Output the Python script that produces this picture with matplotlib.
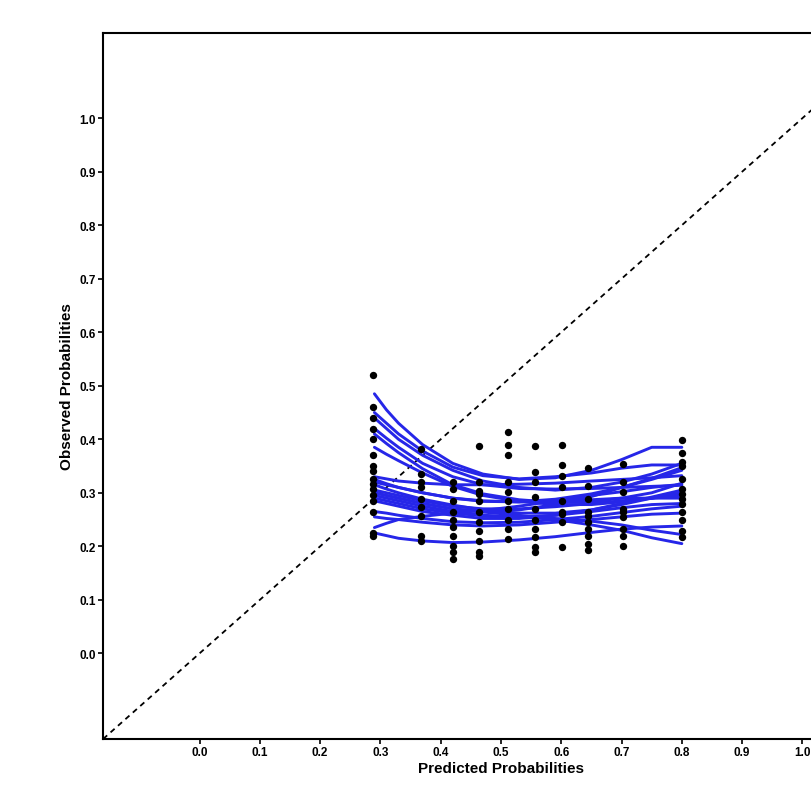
import matplotlib
matplotlib.use("Agg")
import matplotlib.pyplot as plt

# predicted probability groups and the observed values in each group
pred_levels = [0.287, 0.368, 0.42, 0.464, 0.511, 0.557, 0.602, 0.645, 0.703, 0.80]
obs_0287 = [0.52, 0.46, 0.44, 0.42, 0.40, 0.37, 0.35, 0.34, 0.325, 0.316, 0.307, 0.295, 0.285, 0.265, 0.224, 0.22]
obs_0368 = [0.381, 0.335, 0.321, 0.310, 0.288, 0.273, 0.256, 0.219, 0.209]
obs_042 = [0.32, 0.307, 0.284, 0.265, 0.25, 0.236, 0.219, 0.20, 0.19, 0.176]
obs_0464 = [0.387, 0.321, 0.303, 0.297, 0.284, 0.265, 0.245, 0.228, 0.209, 0.189, 0.181]
obs_0511 = [0.413, 0.39, 0.37, 0.32, 0.301, 0.284, 0.269, 0.25, 0.232, 0.213]
obs_0557 = [0.387, 0.338, 0.32, 0.293, 0.269, 0.25, 0.232, 0.217, 0.198, 0.189]
obs_0602 = [0.39, 0.351, 0.331, 0.31, 0.284, 0.265, 0.26, 0.245, 0.198]
obs_0645 = [0.346, 0.312, 0.288, 0.265, 0.256, 0.245, 0.232, 0.219, 0.204, 0.194]
obs_0703 = [0.353, 0.32, 0.301, 0.269, 0.264, 0.254, 0.232, 0.219, 0.20]
obs_080 = [0.398, 0.374, 0.357, 0.35, 0.325, 0.307, 0.297, 0.288, 0.279, 0.265, 0.25, 0.228, 0.217]
obs_groups = [obs_0287, obs_0368, obs_042, obs_0464, obs_0511,
              obs_0557, obs_0602, obs_0645, obs_0703, obs_080]

# smoothed calibration curves (at these x values)
curve_x = [0.29, 0.31, 0.33, 0.37, 0.42, 0.47, 0.53, 0.59, 0.65, 0.70, 0.75, 0.80]
curves = [
    [0.485, 0.455, 0.43, 0.39, 0.355, 0.335, 0.325, 0.328, 0.342, 0.362, 0.385, 0.385],
    [0.45, 0.43, 0.41, 0.378, 0.348, 0.332, 0.326, 0.33, 0.337, 0.346, 0.352, 0.352],
    [0.44, 0.42, 0.40, 0.37, 0.342, 0.322, 0.31, 0.305, 0.31, 0.32, 0.335, 0.355],
    [0.42, 0.402, 0.385, 0.355, 0.33, 0.315, 0.308, 0.307, 0.308, 0.31, 0.312, 0.314],
    [0.41, 0.392, 0.375, 0.345, 0.315, 0.298, 0.287, 0.282, 0.283, 0.29, 0.30, 0.318],
    [0.385, 0.372, 0.36, 0.337, 0.312, 0.295, 0.284, 0.278, 0.278, 0.283, 0.29, 0.30],
    [0.33, 0.326, 0.322, 0.318, 0.315, 0.315, 0.316, 0.318, 0.322, 0.325, 0.328, 0.332],
    [0.325, 0.317, 0.31, 0.30, 0.29, 0.284, 0.283, 0.288, 0.298, 0.31, 0.325, 0.342],
    [0.315, 0.307, 0.30, 0.288, 0.277, 0.268, 0.262, 0.262, 0.268, 0.278, 0.29, 0.30],
    [0.305, 0.30, 0.295, 0.285, 0.275, 0.27, 0.27, 0.274, 0.28, 0.285, 0.29, 0.295],
    [0.295, 0.29, 0.285, 0.275, 0.265, 0.258, 0.255, 0.258, 0.265, 0.272, 0.278, 0.28],
    [0.285, 0.28, 0.275, 0.265, 0.258, 0.252, 0.252, 0.258, 0.268, 0.28, 0.292, 0.305],
    [0.265, 0.262, 0.258, 0.252, 0.246, 0.244, 0.245, 0.25, 0.256, 0.263, 0.27, 0.275],
    [0.255, 0.252, 0.25, 0.245, 0.24, 0.238, 0.24, 0.245, 0.25, 0.255, 0.26, 0.262],
    [0.235, 0.243, 0.25, 0.256, 0.262, 0.267, 0.275, 0.285, 0.295, 0.302, 0.31, 0.316],
    [0.225, 0.22, 0.215, 0.21, 0.207, 0.208, 0.212, 0.218, 0.226, 0.232, 0.236, 0.238],
    [0.30, 0.295, 0.29, 0.28, 0.27, 0.264, 0.258, 0.25, 0.24, 0.23, 0.216, 0.205],
    [0.29, 0.285, 0.28, 0.27, 0.262, 0.257, 0.254, 0.252, 0.247, 0.24, 0.23, 0.222],
    [0.30, 0.295, 0.29, 0.28, 0.27, 0.265, 0.268, 0.278, 0.293, 0.31, 0.327, 0.347],
    [0.32, 0.315, 0.31, 0.30, 0.29, 0.285, 0.283, 0.284, 0.287, 0.29, 0.29, 0.29],
]

ticks = [0.0, 0.1, 0.2, 0.3, 0.4, 0.5, 0.6, 0.7, 0.8, 0.9, 1.0]
lims = [-0.16, 1.16]

plt.rcParams['font.family'] = ['Liberation Sans', 'DejaVu Sans']

fig = plt.figure(figsize=(8.12, 8.12), dpi=100)
# the original is cropped on the right, so the axes run past the figure edge
ax = fig.add_axes([0.127, 0.0887, 0.98, 0.870])

# reference diagonal
ax.plot(lims, lims, color='black', linestyle=(0, (3, 2.5)), linewidth=1.3, zorder=1)

for cy in curves:
    ax.plot(curve_x, cy, color='#2626e8', linewidth=2.1,
            solid_joinstyle='round', solid_capstyle='round', zorder=2)

for px, group in zip(pred_levels, obs_groups):
    ax.scatter([px] * len(group), group, s=28, color='black', zorder=3, linewidths=0)

ax.set_xlim(lims)
ax.set_ylim(lims)
ax.set_xticks(ticks)
ax.set_yticks(ticks)
ax.set_xticklabels([f'{t:.1f}' for t in ticks], fontweight='bold', fontsize=8.5)
ax.set_yticklabels([f'{t:.1f}' for t in ticks], fontweight='bold', fontsize=8.5)
ax.tick_params(direction='out', length=3.5, width=1.2, pad=1.5)

for side in ['left', 'bottom', 'top', 'right']:
    ax.spines[side].set_linewidth(1.5)

ax.set_xlabel('Predicted Probabilities', fontweight='bold', fontsize=11, labelpad=2)
ax.set_ylabel('Observed Probabilities', fontweight='bold', fontsize=11, labelpad=4)

fig.savefig('out.png', dpi=100)
